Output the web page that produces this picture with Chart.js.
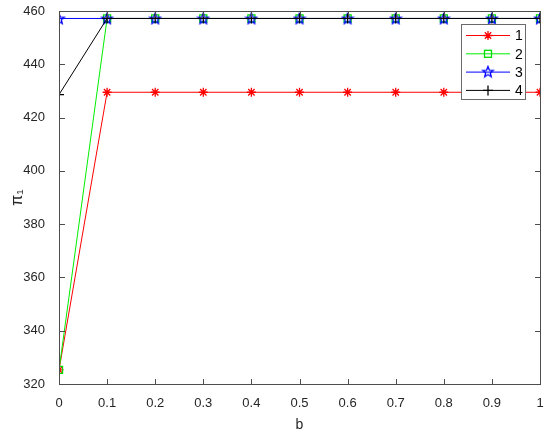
<!doctype html>
<html>
<head>
<meta charset="utf-8">
<script src="https://cdn.jsdelivr.net/npm/chart.js"></script>
<style>
  html, body { margin: 0; padding: 0; background: #fff; }
  #wrap { width: 550px; height: 434px; }
</style>
</head>
<body>
<div id="wrap"><canvas id="myChart" width="550" height="434"></canvas></div>
<script>
    // data
    const bValues = [0, 0.1, 0.2, 0.3, 0.4, 0.5, 0.6, 0.7, 0.8, 0.9, 1];
    const series1 = [325.3, 429.5, 429.5, 429.5, 429.5, 429.5, 429.5, 429.5, 429.5, 429.5, 429.5];
    const series2 = [325.3, 457.2, 457.2, 457.2, 457.2, 457.2, 457.2, 457.2, 457.2, 457.2, 457.2];
    const series3 = [457.2, 457.2, 457.2, 457.2, 457.2, 457.2, 457.2, 457.2, 457.2, 457.2, 457.2];
    const series4 = [428.6, 457.2, 457.2, 457.2, 457.2, 457.2, 457.2, 457.2, 457.2, 457.2, 457.2];
    const seriesNames = ['1', '2', '3', '4'];
    const xTickLabels = ['0', '0.1', '0.2', '0.3', '0.4', '0.5', '0.6', '0.7', '0.8', '0.9', '1'];
    const yTicks = [320, 340, 360, 380, 400, 420, 440, 460];

    const FONT = 'Arial, "Liberation Sans", Helvetica, sans-serif';
    const AXIS_COLOR = '#4d4d4d';

    // five pointed star marker (outline), MATLAB 'p'
    function makeStar(color) {
        const c = document.createElement('canvas');
        c.width = 14; c.height = 14;
        const g = c.getContext('2d');
        g.strokeStyle = color;
        g.lineWidth = 1.3;
        g.beginPath();
        for (let i = 0; i < 10; i++) {
            const r = i % 2 === 0 ? 5.6 : 2.4;
            const a = -Math.PI / 2 + i * Math.PI / 5;
            const px = 7 + r * Math.cos(a), py = 7.5 + r * Math.sin(a);
            if (i === 0) g.moveTo(px, py); else g.lineTo(px, py);
        }
        g.closePath();
        g.stroke();
        return c;
    }
    const blueStar = makeStar('#0000ff');

    function toPoints(ys) {
        return bValues.map((x, i) => ({x: x, y: ys[i]}));
    }

    // order: later series drawn on top, like MATLAB's hold on
    const datasets = [
        {label: seriesNames[0], data: toPoints(series1), order: 4, borderColor: '#ff0000', pointStyle: 'star', pointRadius: 4.5, pointBorderColor: '#ff0000', pointBorderWidth: 1.3},
        {label: seriesNames[1], data: toPoints(series2), order: 3, borderColor: '#00ee00', pointStyle: 'rect', pointRadius: 5, pointBorderColor: '#00dd00', pointBorderWidth: 1.3},
        {label: seriesNames[2], data: toPoints(series3), order: 2, borderColor: '#0000ff', pointStyle: blueStar, pointRadius: 6, pointBorderColor: '#0000ff'},
        {label: seriesNames[3], data: toPoints(series4), order: 1, borderColor: '#000000', pointStyle: 'cross', pointRadius: 5, pointBorderColor: '#000000', pointBorderWidth: 1.2}
    ];
    datasets.forEach(d => {
        d.borderWidth = 1;
        d.backgroundColor = 'rgba(0,0,0,0)';
        d.pointBackgroundColor = 'rgba(0,0,0,0)';
        d.fill = false;
        d.tension = 0;
    });

    function drawMarker(g, style, x, y, color) {
        g.save();
        g.strokeStyle = color;
        g.lineWidth = 1.3;
        g.beginPath();
        if (style === 'star') {
            for (let k = 0; k < 4; k++) {
                const a = k * Math.PI / 4;
                g.moveTo(x - 4.5 * Math.cos(a), y - 4.5 * Math.sin(a));
                g.lineTo(x + 4.5 * Math.cos(a), y + 4.5 * Math.sin(a));
            }
            g.stroke();
        } else if (style === 'rect') {
            g.strokeRect(x - 3.5, y - 3.5, 7, 7);
        } else if (style === 'cross') {
            g.moveTo(x - 5, y); g.lineTo(x + 5, y);
            g.moveTo(x, y - 5); g.lineTo(x, y + 5);
            g.stroke();
        } else {
            g.drawImage(style, x - 7, y - 7.5);
        }
        g.restore();
    }

    // box, inward ticks and MATLAB style legend
    const matlabAxes = {
        id: 'matlabAxes',
        afterDraw(chart) {
            const g = chart.ctx;
            const a = chart.chartArea;
            const xs = chart.scales.x, ys = chart.scales.y;
            const L = Math.round(a.left), R = Math.round(a.right);
            const T = Math.round(a.top), B = Math.round(a.bottom);
            g.save();
            g.strokeStyle = AXIS_COLOR;
            g.lineWidth = 1;
            g.strokeRect(L + 0.5, T + 0.5, R - L, B - T);
            g.fillStyle = AXIS_COLOR;
            xTickLabels.forEach(lbl => {
                const px = Math.round(xs.getPixelForValue(Number(lbl)));
                g.fillRect(px, B - 5, 1, 6);
                g.fillRect(px, T, 1, 6);
            });
            yTicks.forEach(v => {
                const py = Math.round(ys.getPixelForValue(v));
                g.fillRect(L, py, 6, 1);
                g.fillRect(R - 5, py, 6, 1);
            });

            // legend, listed in series order
            const lx = 461.5, ly = 24.5, lw = 64, lh = 75;
            g.fillStyle = '#ffffff';
            g.fillRect(lx, ly, lw, lh);
            g.strokeStyle = '#6a6a6a';
            g.strokeRect(lx, ly, lw, lh);
            chart.data.datasets.forEach((d, i) => {
                const ry = 35.5 + i * 18.3;
                g.strokeStyle = d.borderColor;
                g.lineWidth = 1;
                g.beginPath();
                g.moveTo(466, ry); g.lineTo(510, ry);
                g.stroke();
                drawMarker(g, d.pointStyle, 488, ry, d.pointBorderColor);
                g.fillStyle = '#000';
                g.font = '14px ' + FONT;
                g.textBaseline = 'middle';
                g.fillText(d.label, 515, ry + 1);
            });
            g.restore();
        }
    };

    const ctx = document.getElementById('myChart');
    window.myChart = new Chart(ctx, {
        type: 'line',
        data: {datasets: datasets},
        plugins: [matlabAxes],
        options: {
            responsive: false,
            animation: false,
            layout: {padding: {left: 8, right: 10, top: 11, bottom: 0}},
            plugins: {
                legend: {display: false},
                tooltip: {enabled: false}
            },
            scales: {
                x: {
                    type: 'linear',
                    min: 0,
                    max: 1,
                    grid: {display: false},
                    border: {display: false},
                    ticks: {
                        stepSize: 0.1,
                        color: '#262626',
                        font: {family: FONT, size: 13},
                        padding: 4,
                        maxRotation: 0,
                        autoSkip: false,
                        callback: (v, i) => xTickLabels[i]
                    },
                    title: {display: true, text: 'b', color: '#262626', font: {family: FONT, size: 14}, padding: {top: 0, bottom: 0}},
                    afterFit: s => { s.height = 50; s.paddingLeft = 0; s.paddingRight = 0; }
                },
                y: {
                    min: 320,
                    max: 460,
                    grid: {display: false},
                    border: {display: false},
                    afterBuildTicks: s => { s.ticks = yTicks.map(v => ({value: v})); },
                    ticks: {
                        color: '#262626',
                        font: {family: FONT, size: 13},
                        padding: 6
                    },
                    title: {display: true, text: 'π₁', color: '#262626', font: {family: FONT, size: 16}, padding: {top: 0, bottom: 2}},
                    afterFit: s => { s.width = 51; s.paddingTop = 0; s.paddingBottom = 0; }
                }
            }
        }
    });
</script>
</body>
</html>
